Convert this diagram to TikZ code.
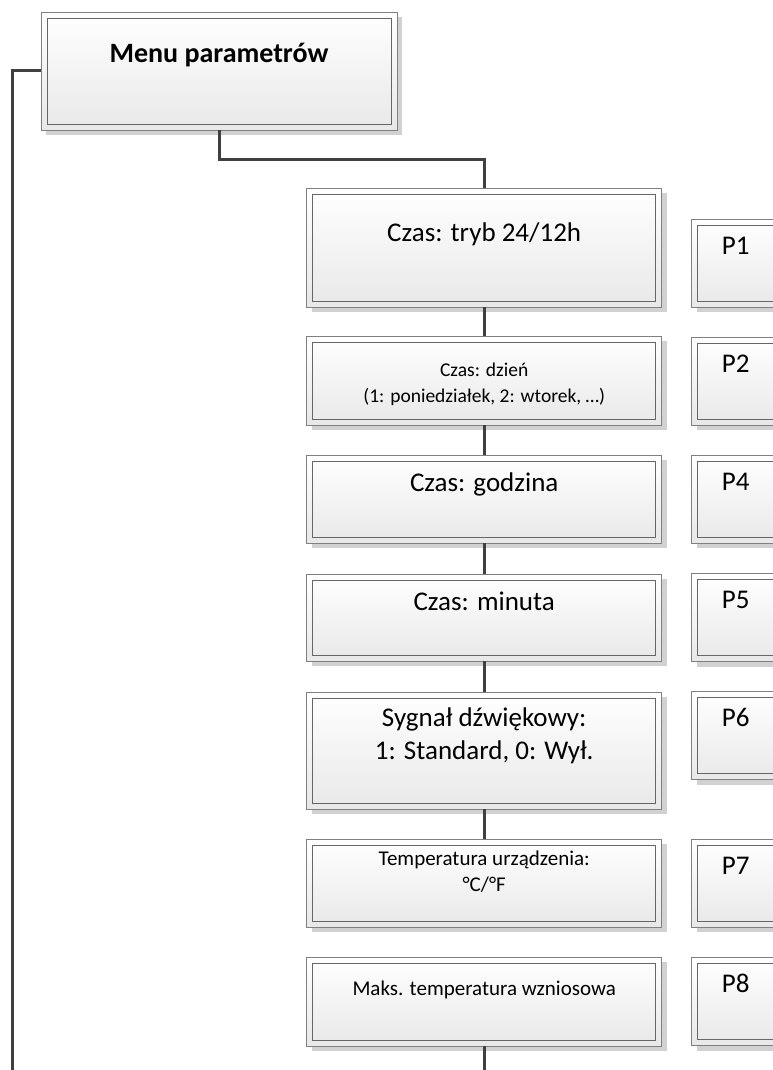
\documentclass[tikz,border=0pt]{standalone}
\usepackage{fontspec}
\setmainfont{Carlito}
\usetikzlibrary{shadows}

\begin{document}
\begin{tikzpicture}[
    x=1pt, y=-1pt,
    boxnode/.style={draw=black!50, line width=0.8pt, top color=white, bottom color=black!9,
        inner sep=0pt, outer sep=0pt,
        drop shadow={shadow xshift=5pt, shadow yshift=-5pt, fill=black!18, opacity=1},
        path picture={
            \draw[black!60, line width=0.8pt]
                ([shift={(6pt,-6pt)}]path picture bounding box.north west) rectangle
                ([shift={(-6pt,6pt)}]path picture bounding box.south east);}},
    itemnode/.style={boxnode, minimum width=355pt},
    codenode/.style={boxnode, anchor=west, minimum width=160pt, minimum height=88pt},
    boxtext/.style={anchor=base, inner sep=0pt, align=center},
    bigtext/.style={boxtext, font=\fontsize{27}{33}\selectfont},
    smalltext/.style={boxtext, font=\fontsize{21}{26}\selectfont},
    codetext/.style={anchor=base west, inner sep=0pt, font=\fontsize{27}{33}\selectfont},
    wire/.style={draw=black!75, line width=3pt}
]
\useasboundingbox (0,0) rectangle (773,1070);

% Root box
\node[boxnode, minimum width=356pt, minimum height=118pt,
    label={[boxtext, font=\fontsize{28}{33}\selectfont\bfseries, yshift=-51pt]north:Menu parametrów}]
    (menu) at (219,71) {};

% Parameter boxes (multi-line labels sit on their last line)
\node[itemnode, minimum height=119pt, label={[bigtext, yshift=-53pt]north:Czas: tryb 24/12h}]
    (tryb) at (484.2,247.5) {};
\node[itemnode, minimum height=89pt,
    label={[smalltext, font=\fontsize{19.5}{26}\selectfont, yshift=-66pt]north:Czas: dzień\\(1: poniedziałek, 2: wtorek, …)}]
    (dzien) at (484.2,380.5) {};
\node[itemnode, minimum height=88pt, label={[bigtext, yshift=-36pt]north:Czas: godzina}]
    (godz) at (484.2,499) {};
\node[itemnode, minimum height=87pt, label={[bigtext, yshift=-36pt]north:Czas: minuta}]
    (minuta) at (484.2,617.5) {};
\node[itemnode, minimum height=117pt,
    label={[bigtext, yshift=-67pt]north:Sygnał dźwiękowy:\\1: Standard, 0: Wył.}]
    (sygnal) at (484.2,750.5) {};
\node[itemnode, minimum height=88pt,
    label={[smalltext, yshift=-52pt]north:Temperatura urządzenia:\\°C/°F}]
    (temp) at (484.2,883) {};
\node[itemnode, minimum height=89pt,
    label={[smalltext, yshift=-38pt]north:Maks. temperatura wzniosowa}]
    (maks) at (484.2,1001.5) {};

% Parameter codes
\node[codenode, label={[codetext, xshift=30pt, yshift=-35pt]north west:P1}] (p1) at (691.7,263) {};
\node[codenode, label={[codetext, xshift=30pt, yshift=-35pt]north west:P2}] (p2) at (691.7,381) {};
\node[codenode, label={[codetext, xshift=30pt, yshift=-35pt]north west:P4}] (p4) at (691.7,499) {};
\node[codenode, label={[codetext, xshift=30pt, yshift=-35pt]north west:P5}] (p5) at (691.7,617.5) {};
\node[codenode, label={[codetext, xshift=30pt, yshift=-35pt]north west:P6}] (p6) at (691.7,735.5) {};
\node[codenode, label={[codetext, xshift=30pt, yshift=-35pt]north west:P7}] (p7) at (691.7,883) {};
\node[codenode, label={[codetext, xshift=30pt, yshift=-35pt]north west:P8}] (p8) at (691.7,1001.5) {};

% Connectors
\coordinate (leftend) at (12,1070);
\coordinate (downend) at (484.2,1070);
\draw[wire] (menu.west) -| (leftend);
\draw[wire] (menu.south) -- ++(0,29) -| (tryb.north);
\draw[wire] (tryb) -- (dzien);
\draw[wire] (dzien) -- (godz);
\draw[wire] (godz) -- (minuta);
\draw[wire] (minuta) -- (sygnal);
\draw[wire] (sygnal) -- (temp);
\draw[wire] (maks.south) -- (downend);

\end{tikzpicture}
\end{document}
